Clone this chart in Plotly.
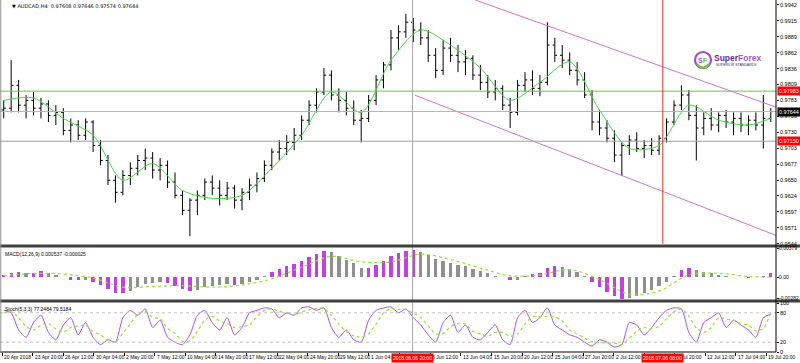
import plotly.graph_objects as go

# ---------------- data ----------------
bar_idx = list(range(104))

opens = [0.9767, 0.9770, 0.9808, 0.9775, 0.9783, 0.9770, 0.9777, 0.9758, 0.9763, 0.9733,
         0.9742, 0.9725, 0.9747, 0.9708, 0.9683, 0.9650, 0.9630, 0.9658, 0.9670, 0.9683,
         0.9687, 0.9667, 0.9675, 0.9647, 0.9625, 0.9600, 0.9617, 0.9625, 0.9647, 0.9637,
         0.9625, 0.9637, 0.9617, 0.9630, 0.9642, 0.9653, 0.9675, 0.9697, 0.9703, 0.9713,
         0.9725, 0.9750, 0.9775, 0.9797, 0.9825, 0.9792, 0.9783, 0.9770, 0.9750, 0.9753,
         0.9783, 0.9817, 0.9842, 0.9887, 0.9897, 0.9913, 0.9900, 0.9887, 0.9858, 0.9833,
         0.9870, 0.9858, 0.9847, 0.9853, 0.9825, 0.9813, 0.9797, 0.9803, 0.9775, 0.9763,
         0.9808, 0.9817, 0.9803, 0.9813, 0.9875, 0.9858, 0.9850, 0.9833, 0.9817, 0.9792,
         0.9747, 0.9737, 0.9720, 0.9692, 0.9708, 0.9717, 0.9703, 0.9708, 0.9700, 0.9720,
         0.9747, 0.9775, 0.9792, 0.9758, 0.9737, 0.9753, 0.9742, 0.9758, 0.9747, 0.9753,
         0.9742, 0.9750, 0.9742, 0.9753]

highs = [0.9783, 0.9850, 0.9817, 0.9792, 0.9797, 0.9787, 0.9783, 0.9775, 0.9770, 0.9753,
         0.9750, 0.9753, 0.9750, 0.9717, 0.9692, 0.9658, 0.9667, 0.9680, 0.9692, 0.9703,
         0.9697, 0.9687, 0.9683, 0.9663, 0.9633, 0.9620, 0.9633, 0.9653, 0.9658, 0.9650,
         0.9647, 0.9642, 0.9637, 0.9653, 0.9663, 0.9683, 0.9703, 0.9717, 0.9725, 0.9737,
         0.9758, 0.9783, 0.9803, 0.9837, 0.9833, 0.9803, 0.9797, 0.9783, 0.9767, 0.9792,
         0.9825, 0.9847, 0.9900, 0.9908, 0.9927, 0.9920, 0.9913, 0.9900, 0.9870, 0.9883,
         0.9887, 0.9875, 0.9867, 0.9858, 0.9842, 0.9825, 0.9817, 0.9808, 0.9787, 0.9817,
         0.9830, 0.9833, 0.9825, 0.9913, 0.9887, 0.9875, 0.9863, 0.9847, 0.9830, 0.9800,
         0.9767, 0.9750, 0.9733, 0.9713, 0.9725, 0.9730, 0.9717, 0.9720, 0.9725, 0.9753,
         0.9783, 0.9808, 0.9800, 0.9775, 0.9763, 0.9770, 0.9763, 0.9767, 0.9763, 0.9763,
         0.9758, 0.9763, 0.9792, 0.9770]

lows = [0.9753, 0.9763, 0.9763, 0.9753, 0.9758, 0.9753, 0.9747, 0.9742, 0.9725, 0.9713,
        0.9717, 0.9717, 0.9697, 0.9675, 0.9642, 0.9613, 0.9625, 0.9642, 0.9658, 0.9667,
        0.9653, 0.9650, 0.9637, 0.9620, 0.9592, 0.9557, 0.9592, 0.9617, 0.9625, 0.9608,
        0.9617, 0.9603, 0.9600, 0.9617, 0.9630, 0.9647, 0.9667, 0.9683, 0.9692, 0.9700,
        0.9717, 0.9742, 0.9763, 0.9792, 0.9783, 0.9763, 0.9758, 0.9742, 0.9713, 0.9747,
        0.9775, 0.9803, 0.9833, 0.9867, 0.9887, 0.9880, 0.9875, 0.9847, 0.9820, 0.9825,
        0.9847, 0.9830, 0.9825, 0.9817, 0.9800, 0.9787, 0.9783, 0.9767, 0.9737, 0.9758,
        0.9797, 0.9792, 0.9790, 0.9808, 0.9847, 0.9837, 0.9825, 0.9808, 0.9787, 0.9733,
        0.9725, 0.9713, 0.9680, 0.9657, 0.9692, 0.9697, 0.9687, 0.9692, 0.9692, 0.9713,
        0.9742, 0.9767, 0.9750, 0.9683, 0.9725, 0.9733, 0.9730, 0.9737, 0.9725, 0.9730,
        0.9725, 0.9733, 0.9703, 0.9747]

closes = [0.9770, 0.9808, 0.9775, 0.9783, 0.9770, 0.9777, 0.9758, 0.9763, 0.9733, 0.9742,
          0.9725, 0.9747, 0.9708, 0.9683, 0.9650, 0.9630, 0.9658, 0.9670, 0.9683, 0.9687,
          0.9667, 0.9675, 0.9647, 0.9625, 0.9600, 0.9617, 0.9625, 0.9647, 0.9637, 0.9625,
          0.9637, 0.9617, 0.9630, 0.9642, 0.9653, 0.9675, 0.9697, 0.9703, 0.9713, 0.9725,
          0.9750, 0.9775, 0.9797, 0.9825, 0.9792, 0.9783, 0.9770, 0.9750, 0.9753, 0.9783,
          0.9817, 0.9842, 0.9887, 0.9897, 0.9913, 0.9900, 0.9887, 0.9858, 0.9833, 0.9870,
          0.9858, 0.9847, 0.9853, 0.9825, 0.9813, 0.9797, 0.9803, 0.9775, 0.9763, 0.9808,
          0.9817, 0.9803, 0.9813, 0.9875, 0.9858, 0.9850, 0.9833, 0.9817, 0.9792, 0.9747,
          0.9737, 0.9720, 0.9692, 0.9708, 0.9717, 0.9703, 0.9708, 0.9700, 0.9720, 0.9747,
          0.9775, 0.9792, 0.9758, 0.9737, 0.9753, 0.9742, 0.9758, 0.9747, 0.9753, 0.9742,
          0.9750, 0.9742, 0.9753, 0.97644]

ma_idx = list(range(0, 101, 4)) + [103]
ma_vals = [0.9783, 0.9787, 0.9753, 0.9725, 0.9650, 0.9678, 0.9633, 0.9620, 0.9625, 0.9670,
           0.9725, 0.9797, 0.9763, 0.9850, 0.9900, 0.9875, 0.9837, 0.9783, 0.9813, 0.9847,
           0.9767, 0.9703, 0.9708, 0.9775, 0.9750, 0.9742, 0.9753]

macd_hist = [0.0003, 0.0006, 0.0007, 0.0006, 0.0006, 0.0008, 0.0006, 0.0003, 0.0000, -0.0003,
             -0.0004, -0.0003, -0.0006, -0.0010, -0.0015, -0.0020, -0.0021, -0.0018, -0.0013, -0.0009,
             -0.0007, -0.0006, -0.0008, -0.0011, -0.0015, -0.0018, -0.0017, -0.0013, -0.0011, -0.0010,
             -0.0009, -0.0010, -0.0009, -0.0006, -0.0003, 0.0002, 0.0007, 0.0011, 0.0014, 0.0017,
             0.0021, 0.0026, 0.0030, 0.0034, 0.0033, 0.0028, 0.0023, 0.0018, 0.0012, 0.0012,
             0.0016, 0.0021, 0.0027, 0.0031, 0.0034, 0.0035, 0.0033, 0.0029, 0.0024, 0.0021,
             0.0019, 0.0016, 0.0014, 0.0011, 0.0008, 0.0005, 0.0002, 0.0000, -0.0004, -0.0003,
             0.0002, 0.0004, 0.0005, 0.0012, 0.0014, 0.0013, 0.0011, 0.0007, 0.0002, -0.0006,
             -0.0013, -0.0019, -0.0025, -0.0028, -0.0027, -0.0024, -0.0021, -0.0017, -0.0012, -0.0006,
             0.0002, 0.0009, 0.0012, 0.0010, 0.0007, 0.0005, 0.0003, 0.0002, 0.0000, 0.0000,
             -0.0001, 0.0000, 0.0002, 0.0005]

sig_idx = list(range(0, 101, 4)) + [103]
macd_signal = [0.0002, 0.0005, 0.0004, -0.0001, -0.0013, -0.0012, -0.0011, -0.0013, -0.0010, -0.0002,
               0.0013, 0.0027, 0.0020, 0.0020, 0.0030, 0.0023, 0.0012, 0.0002, 0.0003, 0.0010,
               -0.0003, -0.0022, -0.0018, 0.0003, 0.0005, 0.0001, 0.0000]

stoch_k = [85, 80, 45, 30, 60, 75, 40, 25, 55, 70,
           35, 60, 30, 15, 25, 20, 70, 85, 75, 88,
           50, 65, 30, 20, 15, 35, 75, 85, 60, 45,
           70, 35, 50, 80, 85, 90, 88, 70, 80, 75,
           90, 92, 85, 90, 50, 30, 45, 25, 20, 65,
           85, 90, 92, 80, 88, 70, 55, 35, 20, 60,
           75, 40, 55, 30, 25, 40, 55, 25, 15, 70,
           85, 60, 70, 90, 55, 45, 35, 30, 20, 12,
           25, 20, 10, 15, 60, 55, 35, 50, 70, 85,
           90, 88, 40, 20, 60, 70, 80, 50, 65, 55,
           45, 30, 70, 77.2]

stoch_d = [80, 82, 70, 52, 45, 55, 58, 47, 40, 50,
           53, 55, 42, 35, 23, 20, 38, 58, 77, 83,
           71, 68, 48, 38, 22, 23, 42, 65, 73, 63,
           58, 50, 52, 55, 72, 85, 88, 83, 79, 75,
           82, 86, 89, 89, 75, 57, 42, 33, 30, 37,
           57, 80, 89, 87, 87, 79, 71, 53, 37, 38,
           52, 58, 57, 42, 37, 32, 40, 40, 32, 37,
           57, 72, 72, 73, 72, 63, 45, 37, 28, 21,
           19, 19, 18, 15, 28, 43, 50, 47, 52, 68,
           82, 88, 73, 49, 40, 50, 70, 67, 65, 57,
           55, 43, 48, 79.5]

price_ticks = [0.99420, 0.99155, 0.98890, 0.98625, 0.98360, 0.98095, 0.97830, 0.97565,
               0.97300, 0.97035, 0.96770, 0.96505, 0.96240, 0.95975, 0.95710, 0.95445]
price_tick_text = ["0.9942", "0.9915", "0.9889", "0.9862", "0.9836", "0.9809", "0.9783", "0.9756",
                   "0.9730", "0.9703", "0.9677", "0.9650", "0.9624", "0.9597", "0.9571", "0.9544"]

macd_ticks = [0.00375, 0.0, -0.00276]
macd_tick_text = ["0.00379", "0.00", "-0.00282"]
stoch_ticks = [100, 80, 20, 0]
stoch_tick_text = ["100", "80", "20", "0"]

time_tick_idx = [-0.2, 3.9, 8.0, 12.1, 16.2, 20.3, 24.4, 28.5, 32.6, 36.7, 40.8, 44.9, 49.0,
                 53.2, 57.3, 61.4, 65.5, 69.6, 73.7, 77.8, 81.9, 86.0, 90.1, 94.2, 98.3, 102.4]
# labels at 53.2 and 86.0 are hidden under the red cursor labels in the reference
time_tick_text = ["20 Apr 2018", "23 Apr 20:00", "26 Apr 12:00", "30 Apr 04:00", "2 May 20:00",
                  "7 May 12:00", "10 May 04:00", "14 May 20:00", "17 May 12:00", "22 May 04:00",
                  "24 May 20:00", "29 May 12:00", "1 Jun 04:00", "", "8 Jun 12:00",
                  "13 Jun 04:00", "15 Jun 20:00", "20 Jun 12:00", "25 Jun 04:00", "27 Jun 20:00",
                  "2 Jul 12:00", "", "9 Jul 20:00", "12 Jul 12:00", "17 Jul 04:00",
                  "19 Jul 20:00"]

# channel (trend lines) anchors: bar index, price
chan_up_idx = [63.3, 103.7]
chan_up_px = [0.99500, 0.97717]
chan_lo_idx = [55.2, 103.7]
chan_lo_px = [0.97917, 0.95583]

# horizontal levels
level_green = 0.97983
level_current = 0.97644
level_low = 0.97150

# vertical markers (bar index) and their labels
vline_gray_idx = 54.9
vline_gray_label = "2018.06.06 20:00"
vline_red_idx = 88.5
vline_red_label = "2018.07.06 08:00"

assert len(opens) == len(highs) == len(lows) == len(closes) == len(macd_hist) == len(stoch_k) == len(stoch_d) == 104
assert len(ma_vals) == len(ma_idx) and len(macd_signal) == len(sig_idx)

# ---------------- layout helpers ----------------
W, H = 800, 363
XR = 776 / W


def py(px):
    return 1 - px / H


FONT = "Liberation Sans"
main_dom = [py(244), 1]
macd_dom = [py(299), py(248)]
stoch_dom = [py(352), py(303)]

fig = go.Figure()

fig.add_trace(go.Ohlc(
    x=bar_idx, open=opens, high=highs, low=lows, close=closes,
    xaxis="x", yaxis="y",
    increasing=dict(line=dict(color="black", width=1)),
    decreasing=dict(line=dict(color="black", width=1)),
    tickwidth=0.3, hoverinfo="skip", showlegend=False))

fig.add_trace(go.Scatter(x=ma_idx, y=ma_vals, mode="lines", xaxis="x", yaxis="y",
                         line=dict(color="#44D844", width=1, shape="spline", smoothing=0.8),
                         hoverinfo="skip", showlegend=False))

fig.add_trace(go.Scatter(x=chan_up_idx, y=chan_up_px, mode="lines", xaxis="x", yaxis="y",
                         line=dict(color="#CC77CC", width=1), hoverinfo="skip", showlegend=False))
fig.add_trace(go.Scatter(x=chan_lo_idx, y=chan_lo_px, mode="lines", xaxis="x", yaxis="y",
                         line=dict(color="#CC77CC", width=1), hoverinfo="skip", showlegend=False))

# MACD histogram colours: purple when magnitude grows, grey otherwise
hist_colors = []
for i, v in enumerate(macd_hist):
    prev = macd_hist[i - 1] if i > 0 else 0
    hist_colors.append("#C040E0" if abs(v) >= abs(prev) else "#909090")

fig.add_trace(go.Bar(x=bar_idx, y=macd_hist, xaxis="x2", yaxis="y2", width=0.45,
                     marker=dict(color=hist_colors, line=dict(width=0)),
                     hoverinfo="skip", showlegend=False))
fig.add_trace(go.Scatter(x=sig_idx, y=macd_signal, mode="lines", xaxis="x2", yaxis="y2",
                         line=dict(color="#8CE63C", width=1.2, dash="dot", shape="spline"),
                         hoverinfo="skip", showlegend=False))

fig.add_trace(go.Scatter(x=bar_idx, y=stoch_k, mode="lines", xaxis="x3", yaxis="y3",
                         line=dict(color="#B050E0", width=1, shape="spline", smoothing=0.6),
                         hoverinfo="skip", showlegend=False))
fig.add_trace(go.Scatter(x=bar_idx, y=stoch_d, mode="lines", xaxis="x3", yaxis="y3",
                         line=dict(color="#8CE63C", width=1.2, dash="dot", shape="spline", smoothing=0.6),
                         hoverinfo="skip", showlegend=False))

common_x = dict(range=[-0.5, 103.7], domain=[0, XR], showgrid=False, zeroline=False,
                showticklabels=False, showline=False, fixedrange=True)
ycommon = dict(side="right", ticks="outside", ticklen=2, tickcolor="black", showgrid=False,
               zeroline=False, showticklabels=False, fixedrange=True)

fig.update_layout(
    width=W, height=H, margin=dict(l=0, r=0, t=0, b=0),
    paper_bgcolor="white", plot_bgcolor="white", showlegend=False, bargap=0,
    hovermode=False,
    xaxis=dict(**common_x, anchor="y", rangeslider=dict(visible=False)),
    xaxis2=dict(**common_x, anchor="y2", matches="x"),
    xaxis3=dict(**common_x, anchor="y3", matches="x", ticks="outside", tickvals=time_tick_idx,
                ticklen=3, tickcolor="black"),
    yaxis=dict(domain=main_dom, range=[0.95440, 0.99500], anchor="x", tickvals=price_ticks, **ycommon),
    yaxis2=dict(domain=macd_dom, range=[-0.00283, 0.00380], anchor="x2", tickvals=macd_ticks, **ycommon),
    yaxis3=dict(domain=stoch_dom, range=[0, 100], anchor="x3", tickvals=stoch_ticks, **ycommon),
)

shapes = []
shapes.append(dict(type="line", xref="paper", x0=0, x1=XR, yref="y", y0=level_green, y1=level_green,
                   line=dict(color="#5CC85C", width=1)))
shapes.append(dict(type="line", xref="paper", x0=0, x1=XR, yref="y", y0=level_current, y1=level_current,
                   line=dict(color="#B4B4B4", width=1)))
shapes.append(dict(type="line", xref="paper", x0=0, x1=XR, yref="y", y0=level_low, y1=level_low,
                   line=dict(color="#A0A0A0", width=1)))
for lv in (20, 80):
    shapes.append(dict(type="line", xref="paper", x0=0, x1=XR, yref="y3", y0=lv, y1=lv,
                       line=dict(color="#C0C0C0", width=1, dash="dot")))
shapes.append(dict(type="line", xref="x", x0=vline_gray_idx, x1=vline_gray_idx, yref="paper",
                   y0=py(352), y1=1, line=dict(color="#A8A8A8", width=1)))
shapes.append(dict(type="line", xref="x", x0=vline_red_idx, x1=vline_red_idx, yref="paper",
                   y0=py(244), y1=1, line=dict(color="#E03030", width=1)))
for ysep in (246, 301):
    shapes.append(dict(type="line", xref="paper", x0=0, x1=1, yref="paper", y0=py(ysep), y1=py(ysep),
                       line=dict(color="#404040", width=3)))
shapes.append(dict(type="line", xref="paper", x0=XR, x1=XR, yref="paper", y0=py(352), y1=1,
                   line=dict(color="black", width=1)))
shapes.append(dict(type="line", xref="paper", x0=0, x1=XR, yref="paper", y0=py(352), y1=py(352),
                   line=dict(color="black", width=1)))
shapes.append(dict(type="line", xref="paper", x0=0.001, x1=0.001, yref="paper", y0=py(352), y1=1,
                   line=dict(color="#909090", width=1)))
# logo mark
shapes.append(dict(type="circle", xref="paper", yref="paper", x0=695 / W, x1=711 / W,
                   y0=py(68), y1=py(52), line=dict(color="#9B4DCA", width=2.2)))
shapes.append(dict(type="path", xref="paper", yref="paper",
                   path=f"M {697/W} {py(64)} Q {703/W} {py(71)} {709/W} {py(64)}",
                   line=dict(color="#7CC242", width=2.2)))
fig.update_layout(shapes=shapes)

ann = []
small = dict(family=FONT, size=5, color="black")
axfont = dict(family=FONT, size=5.5, color="black")
axfont_s = dict(family=FONT, size=5, color="black")
ann.append(dict(xref="paper", yref="paper", x=0.012, y=py(1), xanchor="left", yanchor="top",
                text="\u25BC AUDCAD,H4  0.97608 0.97646 0.97574 0.97644", showarrow=False,
                font=dict(family="DejaVu Sans", size=5, color="black")))
ann.append(dict(xref="paper", yref="paper", x=0.004, y=py(249), xanchor="left", yanchor="top",
                text="MACD(12,26,9) 0.000537 -0.000025", showarrow=False, font=small))
ann.append(dict(xref="paper", yref="paper", x=0.004, y=py(304), xanchor="left", yanchor="top",
                text="Stoch(5,3,3) 77.2484 79.5184", showarrow=False, font=small))
# right-hand axis labels
for tv, tt in zip(price_ticks, price_tick_text):
    ann.append(dict(xref="paper", yref="y", x=779 / W, y=tv, xanchor="left", yanchor="middle",
                    text=tt, showarrow=False, font=axfont, borderpad=0))
for tv, tt in zip(macd_ticks, macd_tick_text):
    ann.append(dict(xref="paper", yref="y2", x=778 / W, y=tv, xanchor="left", yanchor="middle",
                    text=tt, showarrow=False, font=axfont_s, borderpad=0))
for tv, tt in zip(stoch_ticks, stoch_tick_text):
    ann.append(dict(xref="paper", yref="y3", x=779 / W, y=tv, xanchor="left", yanchor="middle",
                    text=tt, showarrow=False, font=axfont, borderpad=0))
# price labels
for val, bg in ((level_green, "#FF0000"), (level_current, "#000000"), (level_low, "#FF0000")):
    ann.append(dict(xref="paper", yref="y", x=777 / W, y=val, xanchor="left", yanchor="middle",
                    text=f"{val:.5f}", showarrow=False, bgcolor=bg, borderpad=1,
                    font=dict(family=FONT, size=5.5, color="white")))
# time axis labels
for tv, tt in zip(time_tick_idx, time_tick_text):
    if tt:
        ann.append(dict(xref="x3", yref="paper", x=tv, y=py(353), xanchor="left", yanchor="top",
                        xshift=1, text=tt, showarrow=False, font=small, borderpad=0))
for tv, tt in ((vline_gray_idx, vline_gray_label), (vline_red_idx, vline_red_label)):
    ann.append(dict(xref="x3", yref="paper", x=tv, y=py(352.5), xanchor="center", yanchor="top",
                    text=tt, showarrow=False, bgcolor="#FF0000", borderpad=1,
                    font=dict(family=FONT, size=5, color="white")))
# logo texts
ann.append(dict(xref="paper", yref="paper", x=703 / W, y=py(60), xanchor="center", yanchor="middle",
                text="<b><span style='color:#9B4DCA'>S</span><span style='color:#7CC242'>F</span></b>",
                showarrow=False, font=dict(family=FONT, size=7)))
ann.append(dict(xref="paper", yref="paper", x=712 / W, y=py(58), xanchor="left", yanchor="middle",
                text="<b><span style='color:#6A2C8E'>Super</span><span style='color:#A05AC8'>Forex</span></b>",
                showarrow=False, font=dict(family=FONT, size=8.5)))
ann.append(dict(xref="paper", yref="paper", x=714 / W, y=py(65), xanchor="left", yanchor="middle",
                text="SUPERIOR STANDARDS", showarrow=False,
                font=dict(family=FONT, size=3.5, color="#333333")))
fig.update_layout(annotations=ann)

fig.write_html("out.html", config={"displayModeBar": False, "staticPlot": True},
               post_script="document.body.style.margin='0';document.body.style.overflow='hidden';")
